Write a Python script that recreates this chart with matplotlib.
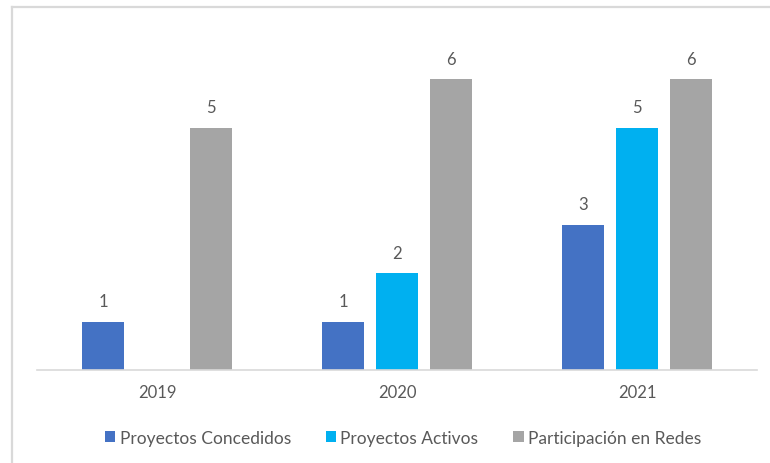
import matplotlib
matplotlib.use("Agg")
import matplotlib.pyplot as plt
from matplotlib.lines import Line2D
import numpy as np

categories = ["2019", "2020", "2021"]
series_names = ["Proyectos Concedidos", "Proyectos Activos", "Participación en Redes"]
concedidos = [1, 1, 3]
activos = [0, 2, 5]
redes = [5, 6, 6]
colors = ["#4472C4", "#00B0F0", "#A5A5A5"]

plt.rcParams['font.family'] = ['Lato', 'DejaVu Sans']
txt = "#595959"

fig = plt.figure(figsize=(7.7, 4.64), dpi=100)
ax = fig.add_axes([37/770, 1-371/464, 720/770, (371-32)/464])

x = np.arange(len(categories))
width = 0.175
step = 0.225
for i, (vals, name, c) in enumerate(zip([concedidos, activos, redes], series_names, colors)):
    pos = x + (i-1)*step
    bars = ax.bar(pos, vals, width, color=c, label=name)
    for p, v in zip(pos, vals):
        if v > 0:
            ax.annotate(str(v), (p, v), xytext=(0, 9), textcoords="offset points",
                        ha="center", va="bottom", fontsize=12, color=txt)

ax.set_xlim(-0.5, 2.5)
ax.set_ylim(0, 7)
ax.set_xticks(x)
ax.set_xticklabels(categories, fontsize=12, color=txt)
ax.tick_params(axis='x', length=0, pad=10)
ax.set_yticks([])
for s in ["top", "right", "left"]:
    ax.spines[s].set_visible(False)
ax.spines["bottom"].set_color("#D9D9D9")
ax.spines["bottom"].set_linewidth(1.2)

leg = fig.legend(loc="center", bbox_to_anchor=(403/770, 1-439/464), ncol=3, frameon=False,
                 fontsize=12.5, handlelength=0.6, handleheight=0.6, handletextpad=0.25,
                 columnspacing=2.0)
for t in leg.get_texts():
    t.set_color(txt)

# partial figure border (left and top)
fig.add_artist(Line2D([12/770, 12/770], [0, 1-7.5/464], transform=fig.transFigure, color="#D9D9D9", lw=1.6))
fig.add_artist(Line2D([12/770, 1], [1-7.5/464, 1-7.5/464], transform=fig.transFigure, color="#D9D9D9", lw=1.6))

fig.savefig("out.png", dpi=100, facecolor="white")
